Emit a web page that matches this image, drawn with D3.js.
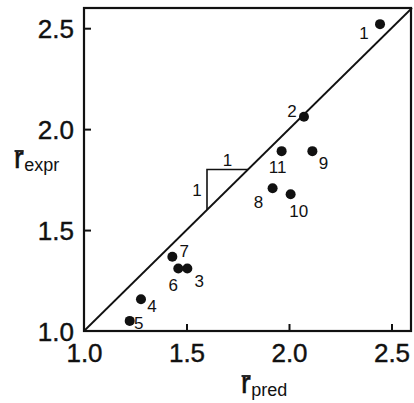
<!DOCTYPE html>
<html><head><meta charset="utf-8">
<script src="https://cdn.jsdelivr.net/npm/d3@7"></script>
<style>body{margin:0;background:#fff}svg{display:block}text{font-family:"Liberation Sans Narrow","Liberation Sans",Arial,sans-serif;fill:#111}</style>
</head><body>
<script>
const ids  = ["1","2","3","4","5","6","7","8","9","10","11"];
const pred = [2.444,2.073,1.504,1.278,1.223,1.460,1.431,1.920,2.114,2.008,1.964];
const expr = [2.520,2.061,1.310,1.157,1.050,1.310,1.368,1.707,1.891,1.677,1.891];
// label offsets in px (dx, dy) relative to point
const labelOff = [[-16,9],[-12,-6],[12,13],[11,7],[9,2],[-5,17],[12,-6],[-14,14],[11,12],[8,17],[-4,16]];
const xTicks = [1.0,1.5,2.0,2.5];
const yTicks = [1.0,1.5,2.0,2.5];
const slope = [[1.6,1.6],[1.6,1.8],[1.8,1.8]];

const W=414,H=403;
const svg=d3.select("body").append("svg").attr("width",W).attr("height",H);
const x=d3.scaleLinear().domain([1,2.6]).range([84,412]);
const y=d3.scaleLinear().domain([1,2.6]).range([331,8]);

// frame
svg.append("rect").attr("x",x(1)).attr("y",y(2.6)).attr("width",x(2.6)-x(1)-1).attr("height",y(1)-y(2.6))
  .attr("fill","none").attr("stroke","#111").attr("stroke-width",2.2);

// axes (inward ticks)
const xa=svg.append("g").attr("transform",`translate(0,${y(1)})`)
  .call(d3.axisBottom(x).tickValues(xTicks).tickSize(-7).tickPadding(13).tickFormat(d3.format(".1f")));
const ya=svg.append("g").attr("transform",`translate(${x(1)},0)`)
  .call(d3.axisLeft(y).tickValues(yTicks).tickSize(-7).tickPadding(10).tickFormat(d3.format(".1f")));
[xa,ya].forEach(a=>{a.select(".domain").remove();
  a.selectAll("line").attr("stroke","#111").attr("stroke-width",2);
  a.selectAll("text").attr("font-size",26).attr("fill","#111")
   .attr("font-family","Liberation Sans Narrow, Liberation Sans, Arial, sans-serif")
   .attr("stroke","#111").attr("stroke-width",0.4);});
xa.selectAll(".tick").filter(d=>d===1).select("line").remove();
ya.selectAll(".tick").filter(d=>d===1).select("line").remove();
xa.selectAll("text").attr("dy","0.7em");
ya.selectAll("text").attr("dy","0.36em");

// diagonal
svg.append("line").attr("x1",x(1)).attr("y1",y(1)).attr("x2",x(2.6)).attr("y2",y(2.6))
  .attr("stroke","#111").attr("stroke-width",1.8);

// slope triangle
svg.append("path").attr("d",d3.line().x(d=>x(d[0])).y(d=>y(d[1]))(slope))
  .attr("fill","none").attr("stroke","#111").attr("stroke-width",1.6);
svg.append("text").attr("x",(x(1.6)+x(1.8))/2).attr("y",y(1.8)-4).attr("text-anchor","middle").attr("font-size",17).text("1");
svg.append("text").attr("x",x(1.6)-10).attr("y",y(1.7)+6).attr("text-anchor","middle").attr("font-size",17).text("1");

// points
svg.selectAll("circle.pt").data(ids).join("circle").attr("class","pt")
  .attr("cx",(d,i)=>x(pred[i])).attr("cy",(d,i)=>y(expr[i])).attr("r",5).attr("fill","#111");
svg.selectAll("text.lb").data(ids).join("text").attr("class","lb")
  .attr("x",(d,i)=>x(pred[i])+labelOff[i][0]).attr("y",(d,i)=>y(expr[i])+labelOff[i][1])
  .attr("text-anchor","middle").attr("dy","0.35em").attr("font-size",17).text(d=>d);

// axis titles with overbar r
function barLabel(px,py,sub){
  const g=svg.append("g");
  const r=g.append("text").attr("x",px).attr("y",py).attr("font-size",29)
    .attr("font-family","Liberation Sans, Arial, sans-serif").attr("stroke","#111").attr("stroke-width",0.5).text("r");
  const rw=r.node().getComputedTextLength();
  g.append("text").attr("x",px+rw+0.5).attr("y",py+3).attr("font-size",18)
    .attr("font-family","Liberation Sans, Arial, sans-serif").text(sub);
  g.append("line").attr("x1",px+0.5).attr("x2",px+rw).attr("y1",py-17).attr("y2",py-17)
    .attr("stroke","#111").attr("stroke-width",1.8);
}
barLabel(241,393,"pred");
barLabel(14,168,"expr");
</script>
</body></html>
